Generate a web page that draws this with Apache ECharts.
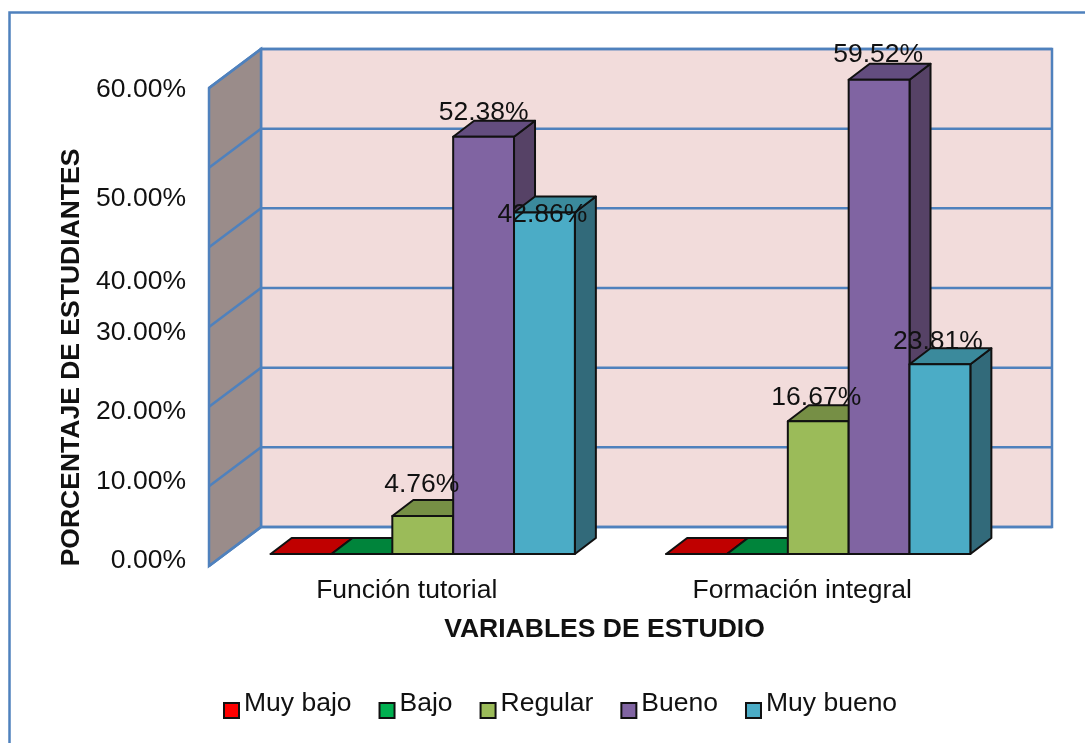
<!DOCTYPE html>
<html>
<head>
<meta charset="utf-8">
<title>Variables de estudio</title>
<script src="https://cdn.jsdelivr.net/npm/echarts@6/dist/echarts.min.js"></script>
<style>
  html, body { margin: 0; padding: 0; background: #fff; }
  #chart { width: 1085px; height: 743px; }
</style>
</head>
<body>
<div id="chart"></div>
<script>
const categories = ['Función tutorial', 'Formación integral']
const levels = ['Muy bajo', 'Bajo', 'Regular', 'Bueno', 'Muy bueno']

const muyBajo = [0, 0]
const bajo = [0, 0]
const regular = [4.76, 16.67]
const bueno = [52.38, 59.52]
const muyBueno = [42.86, 23.81]
const seriesValues = [muyBajo, bajo, regular, bueno, muyBueno]

const tickValues = [0, 10, 20, 30, 40, 50, 60]
const tickLabels = ['0.00%', '10.00%', '20.00%', '30.00%', '40.00%', '50.00%', '60.00%']

// the labels in the original were moved by hand, so they sit off their gridlines
const tickNudge = [-5, -5, 5, 5.5, 34, 31, 2]
const labelNudge = [
  [[0, 0], [0, 0]],
  [[0, 0], [0, 0]],
  [[-1, -31.5], [-2, -23.5]],
  [[0, -24.5], [-1, -25.5]],
  [[-2, 2.5], [-2, -22.5]]
]

const fonts = '"Liberation Sans", Arial, sans-serif'
const fontSize = 26.5
const lineBlue = '#4f81bd'
const edge = '#111111'

const frontColors = ['#ff0000', '#00b050', '#9bbb59', '#8064a2', '#4bacc6']
const topColors = ['#c00000', '#00843b', '#768f45', '#634d7f', '#3b8a9c']
const sideColors = ['#8a0000', '#005f2a', '#5f7339', '#564266', '#326a7a']

// depth of the 3D box, in pixels from the front plane
const wallDepth = [52, -39]
const barPlane = [16, -12]
const barDepth = [21, -16]
const gapBars = 6.5

function renderWalls(params, api) {
  const box = params.coordSys
  const y = api.coord([0, api.value(1)])[1]
  const left = box.x
  const backLeft = left + wallDepth[0]
  const backRight = backLeft + box.width
  const children = []
  if (params.dataIndex === 0) {
    const bottom = box.y + box.height
    children.push({
      type: 'polygon',
      shape: { points: [[backLeft, box.y + wallDepth[1]], [backRight, box.y + wallDepth[1]], [backRight, bottom + wallDepth[1]], [backLeft, bottom + wallDepth[1]]] },
      style: { fill: '#f2dcdb', stroke: lineBlue, lineWidth: 2.5 }
    })
    children.push({
      type: 'polygon',
      shape: { points: [[left, box.y], [backLeft, box.y + wallDepth[1]], [backLeft, bottom + wallDepth[1]], [left, bottom]] },
      style: { fill: '#9a8c8a', stroke: lineBlue, lineWidth: 2.5 }
    })
  }
  children.push({
    type: 'polyline',
    shape: { points: [[left, y], [backLeft, y + wallDepth[1]], [backRight, y + wallDepth[1]]] },
    style: { fill: null, stroke: lineBlue, lineWidth: 2.5 }
  })
  return { type: 'group', children }
}

function makeBarRenderer(seriesIndex) {
  return function (params, api) {
    const catIndex = api.value(0)
    const value = api.value(1)
    const top = api.coord([catIndex, value])
    const base = api.coord([catIndex, 0])
    const w = api.size([1, 0])[0] / gapBars
    const x0 = top[0] - 2.5 * w + seriesIndex * w + barPlane[0]
    const x1 = x0 + w
    const yTop = top[1] + barPlane[1]
    const yBase = base[1] + barPlane[1]
    const dx = barDepth[0]
    const dy = barDepth[1]
    const lines = { stroke: edge, lineWidth: 2, lineJoin: 'round' }
    const children = [
      {
        type: 'polygon',
        shape: { points: [[x1, yTop], [x1 + dx, yTop + dy], [x1 + dx, yBase + dy], [x1, yBase]] },
        style: { fill: sideColors[seriesIndex], ...lines }
      },
      {
        type: 'polygon',
        shape: { points: [[x0, yTop], [x0 + dx, yTop + dy], [x1 + dx, yTop + dy], [x1, yTop]] },
        style: { fill: topColors[seriesIndex], ...lines }
      },
      {
        type: 'polygon',
        shape: { points: [[x0, yTop], [x1, yTop], [x1, yBase], [x0, yBase]] },
        style: { fill: frontColors[seriesIndex], ...lines }
      }
    ]
    if (value > 0) {
      const nudge = labelNudge[seriesIndex][catIndex]
      children.push({
        type: 'text',
        z2: 100,
        style: {
          x: (x0 + x1) / 2 + nudge[0],
          y: yTop + nudge[1],
          text: value.toFixed(2) + '%',
          fill: '#111',
          font: fontSize + 'px ' + fonts,
          align: 'center',
          verticalAlign: 'middle'
        }
      })
    }
    return { type: 'group', children }
  }
}

const tickRich = {}
tickNudge.forEach((n, i) => {
  tickRich['t' + i] = {
    fontSize,
    fontFamily: fonts,
    color: '#111',
    padding: [Math.max(n * 2, 0), 0, Math.max(-n * 2, 0), 0]
  }
})

const chart = echarts.init(document.getElementById('chart'))

chart.setOption({
  animation: false,
  backgroundColor: '#ffffff',
  textStyle: { fontFamily: fonts },
  graphic: [
    {
      type: 'polyline',
      shape: { points: [[9.5, 743], [9.5, 12.5], [1085, 12.5]] },
      style: { fill: null, stroke: lineBlue, lineWidth: 2.5 }
    }
  ],
  grid: { left: 209, top: 88, width: 791, height: 478 },
  legend: {
    data: levels,
    left: 223,
    top: 690,
    padding: 0,
    itemWidth: 15,
    itemHeight: 15,
    itemGap: 27,
    icon: 'rect',
    selectedMode: false,
    itemStyle: { borderColor: edge, borderWidth: 2 },
    formatter: (name) => `{up|${name}}`,
    textStyle: {
      rich: {
        up: {
          fontSize,
          fontFamily: fonts,
          color: '#111',
          padding: [0, 0, 14, 0]
        }
      }
    }
  },
  xAxis: {
    type: 'category',
    data: categories,
    axisLine: { show: false },
    axisTick: { show: false },
    axisLabel: { fontSize, fontFamily: fonts, color: '#111', margin: 11 },
    name: 'VARIABLES DE ESTUDIO',
    nameLocation: 'middle',
    nameGap: 50,
    nameTextStyle: { fontSize, fontFamily: fonts, fontWeight: 'bold', color: '#111' }
  },
  yAxis: {
    type: 'value',
    min: 0,
    max: 60,
    interval: 10,
    axisLine: { show: false },
    axisTick: { show: false },
    splitLine: { show: false },
    axisLabel: {
      margin: 23,
      formatter: (value) => {
        const i = tickValues.indexOf(value)
        return `{t${i}|${tickLabels[i]}}`
      },
      rich: tickRich
    },
    name: 'PORCENTAJE DE ESTUDIANTES',
    nameLocation: 'middle',
    nameGap: 123,
    nameTextStyle: {
      fontSize,
      fontFamily: fonts,
      fontWeight: 'bold',
      color: '#111',
      padding: [0, 61, 0, 0]
    }
  },
  series: [
    {
      type: 'custom',
      name: 'walls',
      z: 1,
      silent: true,
      renderItem: renderWalls,
      data: tickValues.map((v) => [0, v]),
      encode: { x: 0, y: 1 }
    },
    ...levels.map((name, i) => ({
      type: 'custom',
      name,
      z: 2,
      renderItem: makeBarRenderer(i),
      itemStyle: { color: frontColors[i] },
      data: seriesValues[i].map((v, c) => [c, v]),
      encode: { x: 0, y: 1 }
    }))
  ]
})

window.addEventListener('resize', () => chart.resize())
</script>
</body>
</html>
